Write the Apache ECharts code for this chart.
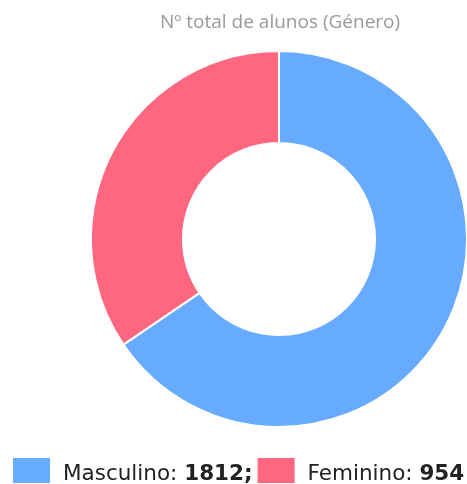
<!DOCTYPE html>
<html>
<head>
<meta charset="utf-8">
<script src="https://cdn.jsdelivr.net/npm/echarts@6/dist/echarts.min.js"></script>
<style>html,body{margin:0;padding:0;background:#fff;}#c{width:467px;height:484px;}</style>
</head>
<body>
<div id="c"></div>
<script>
const titleText = 'Nº total de alunos (Género)';
const categories = ['Masculino', 'Feminino'];
const values = [1812, 954];
const separators = [';', ''];
const colors = ['#66abff', '#ff6680'];

const chart = echarts.init(document.getElementById('c'));
const data = categories.map((name, i) => ({ name, value: values[i], itemStyle: { color: colors[i] } }));
chart.setOption({
  animation: false,
  title: {
    text: titleText,
    left: 160,
    top: 13,
    padding: 0,
    textStyle: { color: '#999', fontFamily: 'Open Sans', fontSize: 19, fontWeight: 'normal' }
  },
  legend: {
    top: 458,
    left: 13,
    padding: 0,
    itemWidth: 37,
    itemHeight: 25,
    itemGap: 5,
    icon: 'rect',
    itemStyle: { borderWidth: 0 },
    formatter: function (name) {
      const i = categories.indexOf(name);
      return '{n|' + name + ': }{v|' + values[i] + separators[i] + '}';
    },
    textStyle: {
      rich: {
        n: { fontFamily: 'DejaVu Sans', fontSize: 21.5, color: '#222', padding: [8, 0, 0, 8] },
        v: { fontFamily: 'DejaVu Sans', fontSize: 21.5, color: '#222', fontWeight: 'bold', padding: [8, 0, 0, 0] }
      }
    }
  },
  series: [{
    type: 'pie',
    center: [279, 239],
    radius: [96, 188],
    startAngle: 90,
    clockwise: true,
    label: { show: false },
    labelLine: { show: false },
    emphasis: { disabled: true },
    itemStyle: { borderColor: '#fff', borderWidth: 2 },
    data: data
  }]
});
</script>
</body>
</html>
